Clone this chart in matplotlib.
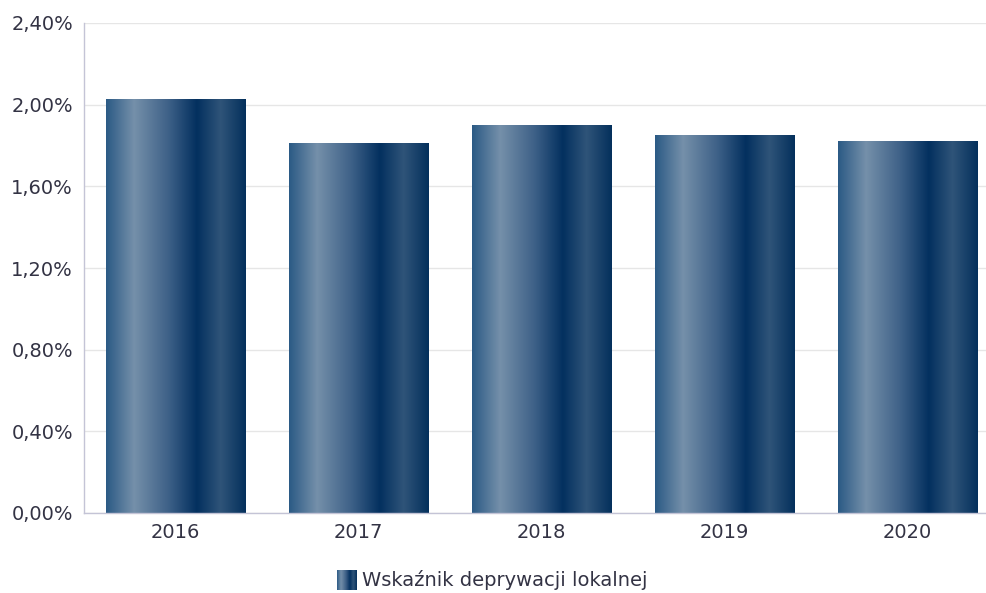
import matplotlib.pyplot as plt
from matplotlib.colors import LinearSegmentedColormap
from matplotlib.ticker import FuncFormatter
import numpy as np

# ==========================================
# DATA
# ==========================================

years = ["2016", "2017", "2018", "2019", "2020"]
values = [2.03, 1.81, 1.90, 1.85, 1.82]
y_ticks = [0.0, 0.4, 0.8, 1.2, 1.6, 2.0, 2.4]
legend_label = "Wskaźnik deprywacji lokalnej"

# ==========================================
# STYLE
# ==========================================

plt.rcParams['font.family'] = ['DejaVu Sans']

grad = LinearSegmentedColormap.from_list("bar_grad", [
    (0.00, "#2b5a85"),
    (0.20, "#7590aa"),
    (0.45, "#3d6087"),
    (0.65, "#03305f"),
    (0.82, "#2f5479"),
    (1.00, "#04305c"),
])
grad_img = np.linspace(0, 1, 256).reshape(1, -1)

# ==========================================
# FIGURE
# ==========================================

fig = plt.figure(figsize=(9.86, 5.93), dpi=100)
ax = fig.add_axes([84 / 986, 80 / 593, 915 / 986, 490 / 593])

bar_w = 0.76
x = np.arange(len(years))
bars = ax.bar(x, values, width=bar_w, color="none", zorder=2)

# gradient fill clipped to each bar
for rect in bars:
    x0 = rect.get_x()
    h = rect.get_height()
    im = ax.imshow(grad_img, cmap=grad, aspect="auto",
                   extent=[x0, x0 + rect.get_width(), 0, h],
                   interpolation="bicubic", zorder=2)
    im.set_clip_path(rect)

ax.set_xlim(-0.5, len(years) - 0.5)
ax.set_ylim(0, 2.4)
ax.set_xticks(x)
ax.set_xticklabels(years)
ax.set_yticks(y_ticks)
ax.yaxis.set_major_formatter(
    FuncFormatter(lambda v, p: f"{v:.2f}%".replace(".", ","))
)

ax.grid(axis="y", color="#e6e6e6", linewidth=1, zorder=0)
ax.set_axisbelow(True)

for side in ["top", "right"]:
    ax.spines[side].set_visible(False)
for side in ["left", "bottom"]:
    ax.spines[side].set_color("#c4c4d6")
    ax.spines[side].set_linewidth(1)

ax.tick_params(axis="both", length=0, labelsize=14, colors="#333344")
ax.tick_params(axis="y", pad=8)
ax.tick_params(axis="x", pad=7)

# ==========================================
# LEGEND
# ==========================================

lax = fig.add_axes([337 / 986, 3 / 593, 20 / 986, 20 / 593])
lax.imshow(grad_img, cmap=grad, aspect="auto", extent=[0, 1, 0, 1],
           interpolation="bicubic")
lax.set_xlim(0, 1)
lax.set_ylim(0, 1)
lax.axis("off")

fig.text(362 / 986, 13 / 593, legend_label, fontsize=14,
         color="#333344", va="center", ha="left")

fig.savefig("out.png", dpi=100)
